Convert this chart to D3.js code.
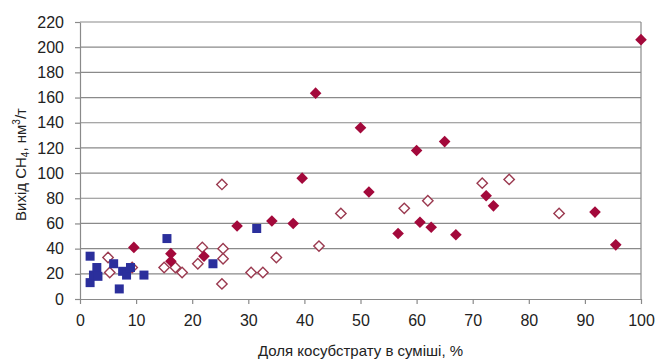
<!DOCTYPE html>
<html>
<head>
<meta charset="utf-8">
<script src="https://cdn.jsdelivr.net/npm/d3@7"></script>
<style>
  body { margin: 0; background: #fff; }
  text { font-family: "Liberation Sans", Arial, sans-serif; fill: #222; }
</style>
</head>
<body>
<div id="chart"></div>
<script>
// Co-substrate share (%) vs CH4 yield (nm3/t)
const xTicks = [0, 10, 20, 30, 40, 50, 60, 70, 80, 90, 100];
const yTicks = [0, 20, 40, 60, 80, 100, 120, 140, 160, 180, 200, 220];

// filled red diamonds
const redX = [100, 42, 50, 60, 65, 39.6, 51.5, 34.2, 38, 28, 22.1, 16.2, 16.2, 9.6, 56.7, 60.6, 62.6, 67, 72.4, 73.7, 91.8, 95.5];
const redY = [206, 163.5, 136, 118, 125, 96, 85, 62, 60, 58, 34, 36, 30, 41, 52, 61, 57, 51, 82, 74, 69, 43];

// open diamonds
const openX = [25.3, 46.5, 42.6, 35, 30.5, 32.6, 25.3, 25.5, 25.5, 21.8, 21, 15, 17, 18.2, 9.3, 5, 5.3, 57.8, 62, 71.7, 76.5, 85.4];
const openY = [91, 68, 42, 33, 21, 21, 12, 32, 40, 41, 28, 25, 25, 21, 25, 33, 21, 72, 78, 92, 95, 68];

// blue squares
const blueX = [1.8, 1.8, 2.4, 3, 3.2, 6, 7, 7.6, 8.3, 9, 11.4, 15.5, 23.7, 31.5];
const blueY = [34, 13, 19, 25, 18, 28, 8, 22, 19, 25, 19, 48, 28, 56];

const W = 657, H = 360;
const margin = { top: 22, right: 16, bottom: 61, left: 80 };

const svg = d3.select("#chart").append("svg")
    .attr("width", W)
    .attr("height", H);

const x = d3.scaleLinear().domain([0, 100]).range([margin.left, W - margin.right]);
const y = d3.scaleLinear().domain([0, 220]).range([H - margin.bottom, margin.top]);

// Gridlines
svg.append("g")
    .selectAll("line")
    .data(yTicks.filter(d => d > 0))
    .enter().append("line")
    .attr("x1", x(0)).attr("x2", x(100))
    .attr("y1", d => y(d)).attr("y2", d => y(d))
    .style("stroke", "#8a8a8a")
    .style("stroke-width", 1.2);

// right border
svg.append("line")
    .attr("x1", x(100)).attr("x2", x(100))
    .attr("y1", y(220)).attr("y2", y(0))
    .style("stroke", "#8a8a8a")
    .style("stroke-width", 1.2);

// Axes
const xAxis = svg.append("g")
    .attr("transform", `translate(0,${y(0)})`)
    .call(d3.axisBottom(x).tickValues(xTicks).tickSize(5).tickPadding(8).tickSizeOuter(0));

const yAxis = svg.append("g")
    .attr("transform", `translate(${x(0)},0)`)
    .call(d3.axisLeft(y).tickValues(yTicks).tickSize(5).tickPadding(8).tickSizeOuter(0));

[xAxis, yAxis].forEach(a => {
    a.select(".domain").style("stroke", "#8a8a8a").style("stroke-width", 1.2);
    a.selectAll(".tick line").style("stroke", "#8a8a8a").style("stroke-width", 1.2);
    a.selectAll(".tick text")
        .style("font-size", "16px")
        .style("font-family", "'Liberation Sans', Arial, sans-serif")
        .style("fill", "#222");
});
xAxis.selectAll(".tick text").attr("dy", "0.9em");
yAxis.selectAll(".tick text").attr("dx", "-3");

// Axis titles
svg.append("text")
    .attr("x", x(50))
    .attr("y", 356)
    .attr("text-anchor", "middle")
    .style("font-size", "15px")
    .text("Доля косубстрату в суміші, %");

const yTitle = svg.append("text")
    .attr("transform", `translate(26,${y(110) + 4}) rotate(-90)`)
    .attr("text-anchor", "middle")
    .style("font-size", "15px");
yTitle.append("tspan").text("Вихід CH");
yTitle.append("tspan").attr("dy", 3).style("font-size", "10px").text("4");
yTitle.append("tspan").attr("dy", -3).text(", нм");
yTitle.append("tspan").attr("dy", -6).style("font-size", "10px").text("3");
yTitle.append("tspan").attr("dy", 6).text("/т");

// Markers
const diamond = r => `M0,${-r}L${r},0L0,${r}L${-r},0Z`;

svg.append("g")
    .selectAll("path")
    .data(d3.range(openX.length))
    .enter().append("path")
    .attr("d", diamond(5.2))
    .attr("transform", i => `translate(${x(openX[i])},${y(openY[i])})`)
    .style("fill", "#fff")
    .style("stroke", "#9b3a50")
    .style("stroke-width", 1.4);

svg.append("g")
    .selectAll("path")
    .data(d3.range(redX.length))
    .enter().append("path")
    .attr("d", diamond(5.8))
    .attr("transform", i => `translate(${x(redX[i])},${y(redY[i])})`)
    .style("fill", "#a3093b");

svg.append("g")
    .selectAll("rect")
    .data(d3.range(blueX.length))
    .enter().append("rect")
    .attr("x", i => x(blueX[i]) - 4.5)
    .attr("y", i => y(blueY[i]) - 4.5)
    .attr("width", 9)
    .attr("height", 9)
    .style("fill", "#2b2f9c");
</script>
</body>
</html>
